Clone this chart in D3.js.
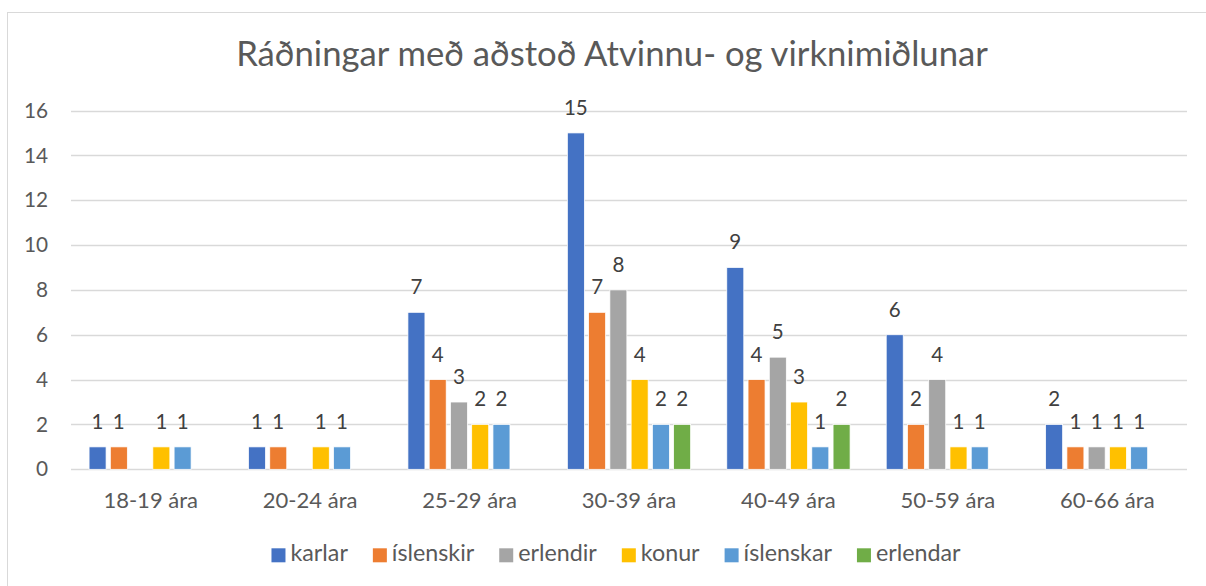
<!DOCTYPE html>
<html><head><meta charset="utf-8">
<script src="https://cdn.jsdelivr.net/npm/d3@7"></script>
<style>html,body{margin:0;padding:0;background:#fff;}svg{display:block;}</style>
</head><body>
<svg id="c" width="1206" height="586"></svg>
<script>
const title = "Ráðningar með aðstoð Atvinnu- og virknimiðlunar";
const categories = ["18-19 ára","20-24 ára","25-29 ára","30-39 ára","40-49 ára","50-59 ára","60-66 ára"];
const seriesNames = ["karlar","íslenskir","erlendir","konur","íslenskar","erlendar"];
const seriesColors = ["#4472C4","#ED7D31","#A5A5A5","#FFC000","#5B9BD5","#70AD47"];
const karlar    = [1, 1, 7, 15, 9, 6, 2];
const islenskir = [1, 1, 4, 7, 4, 2, 1];
const erlendir  = [null, null, 3, 8, 5, 4, 1];
const konur     = [1, 1, 2, 4, 3, 1, 1];
const islenskar = [1, 1, 2, 2, 1, 1, 1];
const erlendar  = [null, null, null, 2, 2, null, null];
const yTicks = [0, 2, 4, 6, 8, 10, 12, 14, 16];

const seriesValues = [karlar, islenskir, erlendir, konur, islenskar, erlendar];
const F = "Lato, 'Open Sans', sans-serif";
const svg = d3.select("#c");

function fit(text, target, base){
  const t = svg.append("text").attr("font-family", F).attr("font-size", base).text(text);
  const w = t.node().getComputedTextLength();
  t.remove();
  return base * target / w;
}
const titleSize = fit(title, 752, 30);
const xLabSize = fit("18-19 ára", 91, 20) * 1.04;
const yLabSize = fit("16", 23, 20) * 1.05;
const dataSize = fit("15", 22.7, 20) * 1.05;
const legSize = fit("íslenskir", 80, 20) * 1.03;

// chart border
svg.append("rect").attr("x", 7.5).attr("y", 12.5).attr("width", 1230).attr("height", 600)
  .attr("fill", "none").attr("stroke", "#d9d9d9").attr("stroke-width", 1);

const pLeft = 71, pRight = 1187, pTop = 110.5, pBottom = 469.3;
const y = d3.scaleLinear().domain([0, 16]).range([pBottom, pTop]);
const x0 = d3.scaleBand().domain(categories).range([pLeft, pRight]).paddingInner(0.2).paddingOuter(0.1);
const x1 = d3.scaleBand().domain(seriesNames).range([0, x0.bandwidth()]).paddingInner(0.2).paddingOuter(0.1);

// title
svg.append("text").attr("x", 612).attr("y", 66).attr("text-anchor", "middle")
  .attr("font-family", F).attr("font-size", titleSize).attr("fill", "#595959").text(title);

// gridlines
svg.append("g").selectAll("line").data(yTicks).join("line")
  .attr("x1", pLeft).attr("x2", pRight)
  .attr("y1", d => Math.round(y(d)) + 0.5).attr("y2", d => Math.round(y(d)) + 0.5)
  .attr("stroke", "#d9d9d9").attr("stroke-width", 1.3);

// y axis labels
const yAxis = d3.axisLeft(y).tickValues(yTicks).tickSize(0).tickPadding(0);
const gy = svg.append("g").attr("transform", `translate(48,0)`).call(yAxis);
gy.select(".domain").remove();
gy.selectAll("text").attr("font-family", F).attr("font-size", yLabSize).attr("fill", "#595959");

// x axis labels
const xAxis = d3.axisBottom(x0).tickSize(0).tickPadding(0);
const gx = svg.append("g").call(xAxis);
gx.select(".domain").remove();
gx.selectAll("text").attr("dy", null).attr("y", 508)
  .attr("font-family", F).attr("font-size", xLabSize).attr("fill", "#595959");

// bars
const flat = [];
categories.forEach((c, i) => seriesNames.forEach((s, j) => {
  const v = seriesValues[j][i];
  if (v !== null) flat.push({c, s, v, color: seriesColors[j]});
}));
const gb = svg.append("g");
gb.selectAll("rect").data(flat).join("rect")
  .attr("x", d => x0(d.c) + x1(d.s))
  .attr("y", d => y(d.v))
  .attr("width", x1.bandwidth())
  .attr("height", d => y(0) - y(d.v))
  .attr("fill", d => d.color)
  .attr("stroke", "#ffffff").attr("stroke-width", 0.75);
gb.selectAll("text").data(flat).join("text")
  .attr("x", d => x0(d.c) + x1(d.s) + x1.bandwidth() / 2)
  .attr("y", d => y(d.v) - 18)
  .attr("text-anchor", "middle")
  .attr("font-family", F).attr("font-size", dataSize).attr("fill", "#404040")
  .text(d => d.v);

// legend
const lg = svg.append("g");
let cx = 0;
seriesNames.forEach((s, j) => {
  const g = lg.append("g");
  g.append("rect").attr("x", cx).attr("y", 548.3).attr("width", 14).attr("height", 14).attr("fill", seriesColors[j]);
  const t = g.append("text").attr("x", cx + 19).attr("y", 561)
    .attr("font-family", F).attr("font-size", legSize).attr("fill", "#595959").text(s);
  const w = t.node().getComputedTextLength();
  cx += 19 + w + 25;
});
const totalW = cx - 25;
lg.attr("transform", `translate(${616 - totalW / 2},0)`);
</script>
</body></html>
